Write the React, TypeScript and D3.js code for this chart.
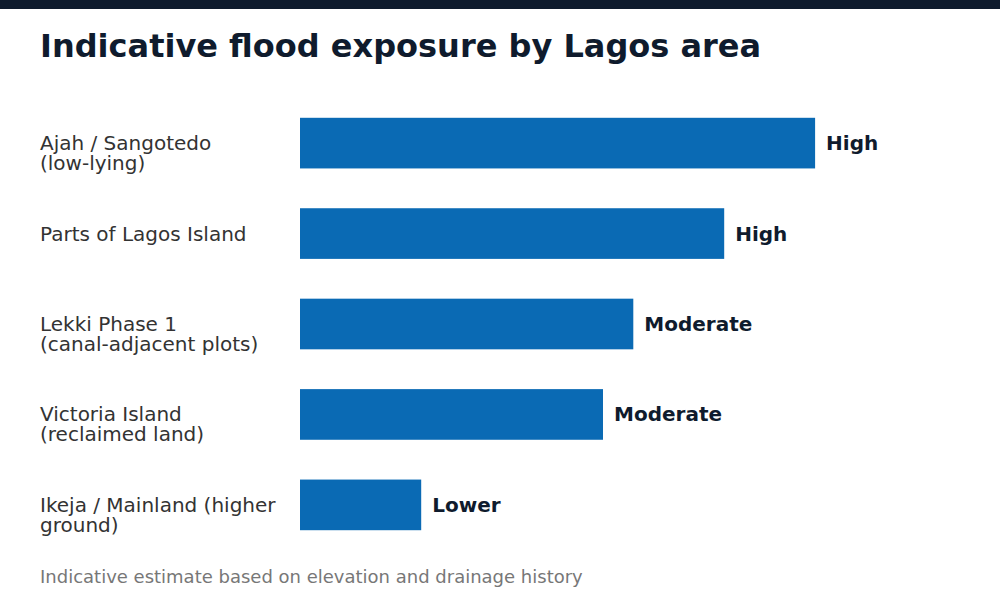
import React from "react";
import * as d3 from "d3";

const areas = [
  ["Ajah / Sangotedo", "(low-lying)"],
  ["Parts of Lagos Island"],
  ["Lekki Phase 1", "(canal-adjacent plots)"],
  ["Victoria Island", "(reclaimed land)"],
  ["Ikeja / Mainland (higher", "ground)"],
];
const scores = [85, 70, 55, 50, 20];
const levels = ["High", "High", "Moderate", "Moderate", "Lower"];

const W = 1000;
const H = 600;

export default function App() {
  const ids = areas.map((_, i) => String(i));
  const y = d3.scaleBand<string>().domain(ids).range([78, 570]).paddingInner(0.44).paddingOuter(0.44);
  const x = d3.scaleLinear().domain([0, 100]).range([300, 906]);
  const font = "'DejaVu Sans', sans-serif";
  return (
    <svg width={W} height={H} style={{ position: "absolute", left: 0, top: 0, display: "block" }} fontFamily={font}>
      <rect x={0} y={0} width={W} height={H} fill="#ffffff" />
      <rect x={0} y={0} width={W} height={9} fill="#0f1b2d" />
      <text x={40} y={57} fontSize={32} fontWeight="bold" fill="#0f1b2d">
        Indicative flood exposure by Lagos area
      </text>
      {ids.map((id, i) => {
        const y0 = y(id)!;
        const cy = y0 + y.bandwidth() / 2;
        return (
          <g key={id}>
            <rect x={x(0)} y={y0} width={x(scores[i]) - x(0)} height={y.bandwidth()} fill="#0a6ab4" />
            <text x={40} y={cy} fontSize={20} fill="#333333">
              {areas[i].map((line, j) => (
                <tspan key={j} x={40} dy={j === 0 ? "0.35em" : "1em"}>
                  {line}
                </tspan>
              ))}
            </text>
            <text x={x(scores[i]) + 11} y={cy} dy="0.35em" fontSize={20} fontWeight="bold" fill="#0f1b2d">
              {levels[i]}
            </text>
          </g>
        );
      })}
      <text x={40} y={583} fontSize={18} fill="#777777">
        Indicative estimate based on elevation and drainage history
      </text>
    </svg>
  );
}
